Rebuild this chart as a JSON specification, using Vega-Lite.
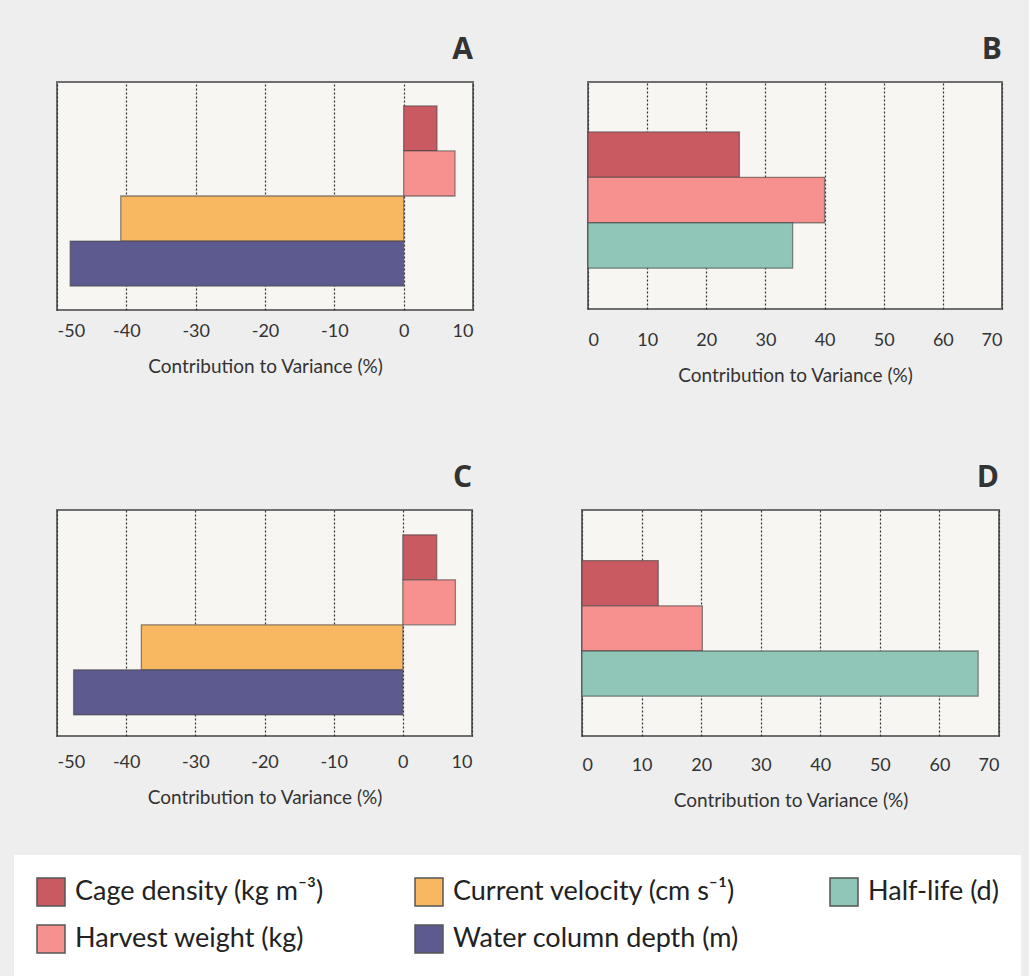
{
  "$schema": "https://vega.github.io/schema/vega-lite/v6.json",
  "background": "#eeeeee",
  "padding": {"left": 14, "top": 34, "right": 8, "bottom": 0},
  "data": {"values": [
    {"panel": "A", "factor": "Cage density (kg m⁻³)", "value": 4.8},
    {"panel": "A", "factor": "Harvest weight (kg)", "value": 7.4},
    {"panel": "A", "factor": "Current velocity (cm s⁻¹)", "value": -40.8},
    {"panel": "A", "factor": "Water column depth (m)", "value": -48.1},
    {"panel": "B", "factor": "Cage density (kg m⁻³)", "value": 25.6},
    {"panel": "B", "factor": "Harvest weight (kg)", "value": 40.0},
    {"panel": "B", "factor": "Half-life (d)", "value": 34.6},
    {"panel": "C", "factor": "Cage density (kg m⁻³)", "value": 4.9},
    {"panel": "C", "factor": "Harvest weight (kg)", "value": 7.6},
    {"panel": "C", "factor": "Current velocity (cm s⁻¹)", "value": -37.8},
    {"panel": "C", "factor": "Water column depth (m)", "value": -47.6},
    {"panel": "D", "factor": "Cage density (kg m⁻³)", "value": 12.8},
    {"panel": "D", "factor": "Harvest weight (kg)", "value": 20.2},
    {"panel": "D", "factor": "Half-life (d)", "value": 66.5}
  ]},
  "vconcat": [
    {
      "hconcat": [
        {
          "title": {"text": "A"},
          "width": 416, "height": 228,
          "transform": [{"filter": "datum.panel === 'A'"}],
          "mark": {"type": "bar", "stroke": "#444", "strokeWidth": 1.3, "strokeOpacity": 0.6},
          "encoding": {
            "y": {"field": "factor", "type": "nominal", "axis": null,
                  "sort": ["Cage density (kg m⁻³)", "Harvest weight (kg)", "Current velocity (cm s⁻¹)", "Water column depth (m)", "Half-life (d)"],
                  "scale": {"paddingInner": 0, "paddingOuter": 0.53, "align": 0.5}},
            "x": {"field": "value", "type": "quantitative",
                  "scale": {"domain": [-50, 10], "nice": false, "zero": false},
                  "axis": {"values": [-50, -40, -30, -20, -10, 0, 10], "title": "Contribution to Variance (%)"}},
            "color": {"field": "factor", "type": "nominal",
                      "scale": {"domain": ["Cage density (kg m⁻³)", "Current velocity (cm s⁻¹)", "Half-life (d)", "Harvest weight (kg)", "Water column depth (m)"],
                                "range": ["#c95a61", "#f8b862", "#8fc6b8", "#f7918f", "#5c5a8f"]},
                      "legend": {"orient": "none", "legendX": -43, "legendY": 773, "columns": 3, "title": null}}
          }
        },
        {
          "title": {"text": "B"},
          "width": 414, "height": 227,
          "transform": [{"filter": "datum.panel === 'B'"}],
          "mark": {"type": "bar", "stroke": "#444", "strokeWidth": 1.3, "strokeOpacity": 0.6},
          "encoding": {
            "y": {"field": "factor", "type": "nominal", "axis": null,
                  "sort": ["Cage density (kg m⁻³)", "Harvest weight (kg)", "Current velocity (cm s⁻¹)", "Water column depth (m)", "Half-life (d)"],
                  "scale": {"paddingInner": 0, "paddingOuter": 1.02, "align": 0.55}},
            "x": {"field": "value", "type": "quantitative",
                  "scale": {"domain": [0, 70], "nice": false},
                  "axis": {"values": [0, 10, 20, 30, 40, 50, 60, 70], "title": "Contribution to Variance (%)", "labelPadding": 22}},
            "color": {"field": "factor", "type": "nominal",
                      "scale": {"domain": ["Cage density (kg m⁻³)", "Current velocity (cm s⁻¹)", "Half-life (d)", "Harvest weight (kg)", "Water column depth (m)"],
                                "range": ["#c95a61", "#f8b862", "#8fc6b8", "#f7918f", "#5c5a8f"]},
                      "legend": {"orient": "none", "legendX": -43, "legendY": 773, "columns": 3, "title": null}}
          }
        }
      ],
      "spacing": 112,
      "resolve": {"scale": {"x": "independent", "y": "independent"}}
    },
    {
      "hconcat": [
        {
          "title": {"text": "C"},
          "width": 415, "height": 226,
          "transform": [{"filter": "datum.panel === 'C'"}],
          "mark": {"type": "bar", "stroke": "#444", "strokeWidth": 1.3, "strokeOpacity": 0.6},
          "encoding": {
            "y": {"field": "factor", "type": "nominal", "axis": null,
                  "sort": ["Cage density (kg m⁻³)", "Harvest weight (kg)", "Current velocity (cm s⁻¹)", "Water column depth (m)", "Half-life (d)"],
                  "scale": {"paddingInner": 0, "paddingOuter": 0.51, "align": 0.54}},
            "x": {"field": "value", "type": "quantitative",
                  "scale": {"domain": [-50, 10], "nice": false, "zero": false},
                  "axis": {"values": [-50, -40, -30, -20, -10, 0, 10], "title": "Contribution to Variance (%)", "labelPadding": 17}},
            "color": {"field": "factor", "type": "nominal",
                      "scale": {"domain": ["Cage density (kg m⁻³)", "Current velocity (cm s⁻¹)", "Half-life (d)", "Harvest weight (kg)", "Water column depth (m)"],
                                "range": ["#c95a61", "#f8b862", "#8fc6b8", "#f7918f", "#5c5a8f"]},
                      "legend": {"orient": "none", "legendX": -43, "legendY": 773, "columns": 3, "title": null}}
          }
        },
        {
          "title": {"text": "D"},
          "width": 417, "height": 226,
          "transform": [{"filter": "datum.panel === 'D'"}],
          "mark": {"type": "bar", "stroke": "#444", "strokeWidth": 1.3, "strokeOpacity": 0.6},
          "encoding": {
            "y": {"field": "factor", "type": "nominal", "axis": null,
                  "sort": ["Cage density (kg m⁻³)", "Harvest weight (kg)", "Current velocity (cm s⁻¹)", "Water column depth (m)", "Half-life (d)"],
                  "scale": {"paddingInner": 0, "paddingOuter": 1.01, "align": 0.56}},
            "x": {"field": "value", "type": "quantitative",
                  "scale": {"domain": [0, 70], "nice": false},
                  "axis": {"values": [0, 10, 20, 30, 40, 50, 60, 70], "title": "Contribution to Variance (%)", "labelPadding": 20}},
            "color": {"field": "factor", "type": "nominal",
                      "scale": {"domain": ["Cage density (kg m⁻³)", "Current velocity (cm s⁻¹)", "Half-life (d)", "Harvest weight (kg)", "Water column depth (m)"],
                                "range": ["#c95a61", "#f8b862", "#8fc6b8", "#f7918f", "#5c5a8f"]},
                      "legend": {"orient": "none", "legendX": -43, "legendY": 773, "columns": 3, "title": null}}
          }
        }
      ],
      "spacing": 107,
      "resolve": {"scale": {"x": "independent", "y": "independent"}}
    }
  ],
  "spacing": 76,
  "resolve": {"scale": {"color": "shared"}},
  "config": {
    "view": {"fill": "#f7f6f2", "stroke": "#6f6f6f", "strokeWidth": 2},
    "title": {"anchor": "end", "fontSize": 30, "fontWeight": "bold", "font": "Open Sans", "color": "#333333", "offset": 17},
    "axis": {"domain": false, "ticks": false, "grid": true,
             "labelFont": "Lato", "labelFontSize": 18, "labelColor": "#333333", "labelPadding": 12,
             "labelExpr": "replace(datum.label, '−', '-')",
             "titleFont": "Lato", "titleFontSize": 19, "titleFontWeight": "normal", "titleColor": "#333333", "titlePadding": 17,
             "gridColor": "#333333", "gridDash": [2, 2], "gridWidth": 1.2},
    "legend": {"symbolType": "square", "symbolSize": 784, "symbolStrokeColor": "#555555", "symbolStrokeWidth": 1.5,
               "labelFont": "Lato", "labelFontSize": 27, "labelColor": "#222222", "labelLimit": 500, "labelOffset": 9,
               "columnPadding": 88, "rowPadding": 13, "fillColor": "white", "padding": 22, "direction": "horizontal"}
  }
}
